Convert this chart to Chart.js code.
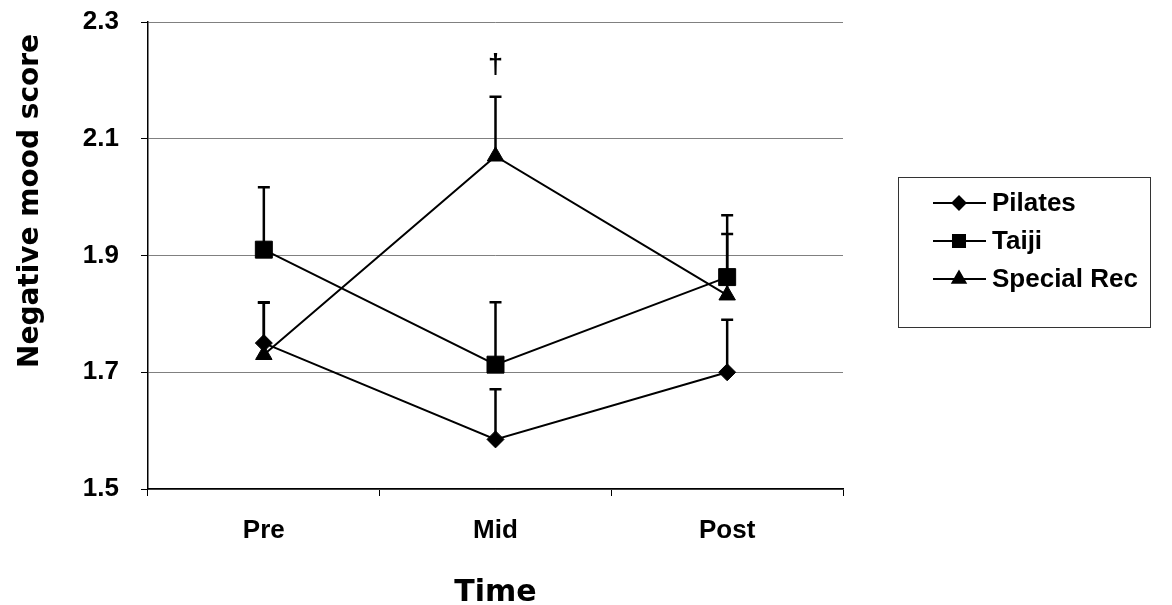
<!DOCTYPE html>
<html>
<head>
<meta charset="utf-8">
<script src="https://cdn.jsdelivr.net/npm/chart.js@4.4.0/dist/chart.umd.min.js"></script>
<style>
  html, body { margin: 0; padding: 0; background: #fff; }
  #wrap { width: 1172px; height: 605px; position: relative; }
</style>
</head>
<body>
<div id="wrap"><canvas id="moodChart"></canvas></div>
<script>
// Datos
const categories = ['Pre', 'Mid', 'Post'];
const pilates = [1.75, 1.585, 1.70];
const taiji = [1.91, 1.713, 1.863];
const specialRec = [1.73, 2.07, 1.832];

// Barras de error (solo hacia arriba)
const pilatesErr = [0.07, 0.086, 0.09];
const taijiErr = [0.107, 0.107, 0.106];
const specialRecErr = [0.089, 0.102, 0.105];

const yTicks = [1.5, 1.7, 1.9, 2.1, 2.3];
const daggerCategory = 'Mid';
const daggerValue = 2.225;

const seriesNames = ['Pilates', 'Taiji', 'Special Rec'];
const errors = [pilatesErr, taijiErr, specialRecErr];

const errorBars = {
  id: 'errorBars',
  beforeDatasetsDraw(chart) {
    const ctx = chart.ctx;
    const y = chart.scales.y;
    ctx.save();
    ctx.strokeStyle = '#000';
    ctx.lineWidth = 2.5;
    chart.data.datasets.forEach((ds, i) => {
      const meta = chart.getDatasetMeta(i);
      meta.data.forEach((pt, j) => {
        const top = y.getPixelForValue(ds.data[j] + errors[i][j]);
        ctx.beginPath();
        ctx.moveTo(pt.x, pt.y);
        ctx.lineTo(pt.x, top);
        ctx.moveTo(pt.x - 6, top);
        ctx.lineTo(pt.x + 6, top);
        ctx.stroke();
      });
    });
    ctx.restore();
  }
};

const extras = {
  id: 'extras',
  afterDraw(chart) {
    const ctx = chart.ctx;
    const xs = chart.scales.x, ys = chart.scales.y;
    ctx.save();
    ctx.fillStyle = '#000';

    // titulo eje Y
    ctx.save();
    ctx.translate(31, 201);
    ctx.rotate(-Math.PI / 2);
    ctx.font = 'bold 28px "DejaVu Sans"';
    ctx.textAlign = 'center';
    ctx.textBaseline = 'middle';
    ctx.fillText('Negative mood score', 0, 0);
    ctx.restore();

    // daga
    ctx.font = 'bold 27px "Liberation Sans"';
    ctx.textAlign = 'center';
    ctx.textBaseline = 'middle';
    ctx.fillText('\u2020', xs.getPixelForValue(categories.indexOf(daggerCategory)), ys.getPixelForValue(daggerValue));

    // leyenda
    ctx.strokeStyle = '#333';
    ctx.lineWidth = 1;
    ctx.strokeRect(898.5, 177.5, 252, 150);
    const styles = ['rectRot', 'rect', 'triangle'];
    const radii = [6.5, 8.5, 7.5];
    ctx.font = 'bold 26px "Liberation Sans"';
    ctx.textAlign = 'left';
    seriesNames.forEach((name, i) => {
      const cy = 203 + i * 38;
      ctx.strokeStyle = '#000';
      ctx.lineWidth = 2;
      ctx.beginPath();
      ctx.moveTo(933, cy);
      ctx.lineTo(986, cy);
      ctx.stroke();
      Chart.helpers.drawPoint(ctx, {
        pointStyle: styles[i], radius: radii[i], borderWidth: 1, rotation: 0
      }, 959, cy);
      ctx.fillStyle = '#000';
      ctx.fill();
      ctx.fillText(name, 992, cy + 1);
    });
    ctx.restore();
  }
};

function makeSet(label, data, style, radius) {
  return {
    label: label,
    data: data,
    borderColor: '#000',
    backgroundColor: '#000',
    borderWidth: 2,
    pointStyle: style,
    pointRadius: radius,
    pointBackgroundColor: '#000',
    pointBorderColor: '#000',
    pointBorderWidth: 1,
    tension: 0
  };
}

new Chart(document.getElementById('moodChart'), {
  type: 'line',
  data: {
    labels: categories,
    datasets: [
      makeSet('Pilates', pilates, 'rectRot', 8.5),
      makeSet('Taiji', taiji, 'rect', 12),
      makeSet('Special Rec', specialRec, 'triangle', 9.5)
    ]
  },
  options: {
    responsive: true,
    maintainAspectRatio: false,
    animation: false,
    layout: { autoPadding: false, padding: { left: 0, right: 329, top: 22, bottom: 0 } },
    plugins: { legend: { display: false }, tooltip: { enabled: false } },
    scales: {
      x: {
        offset: true,
        grid: { offset: true, drawOnChartArea: false, drawTicks: true, tickLength: 7, color: '#000' },
        border: { color: '#000', width: 1.5 },
        ticks: { color: '#000', padding: 19, font: { family: 'Liberation Sans', size: 26, weight: 'bold' } },
        title: {
          display: true, text: 'Time', color: '#000',
          font: { family: 'DejaVu Sans', size: 30, weight: 'bold', lineHeight: 0.8 },
          padding: { top: 0, bottom: 0 }
        },
        afterFit(scale) {
          scale.height = 116;
          scale.paddingLeft = 0;
          scale.paddingRight = 0;
        }
      },
      y: {
        min: 1.5,
        max: 2.3,
        afterBuildTicks(scale) { scale.ticks = yTicks.map(v => ({ value: v })); },
        grid: { color: '#808080', tickColor: '#000', tickLength: 7, lineWidth: 1 },
        border: { color: '#000', width: 1.5 },
        ticks: {
          color: '#000', padding: 22,
          font: { family: 'Liberation Sans', size: 26, weight: 'bold' },
          callback: v => v.toFixed(1)
        },
        afterFit(scale) {
          scale.width = 148;
          // la separacion de etiquetas no debe empujar el area del grafico
          scale.paddingTop = 0;
          scale.paddingBottom = 0;
        }
      }
    }
  },
  plugins: [errorBars, extras]
});
</script>
</body>
</html>
